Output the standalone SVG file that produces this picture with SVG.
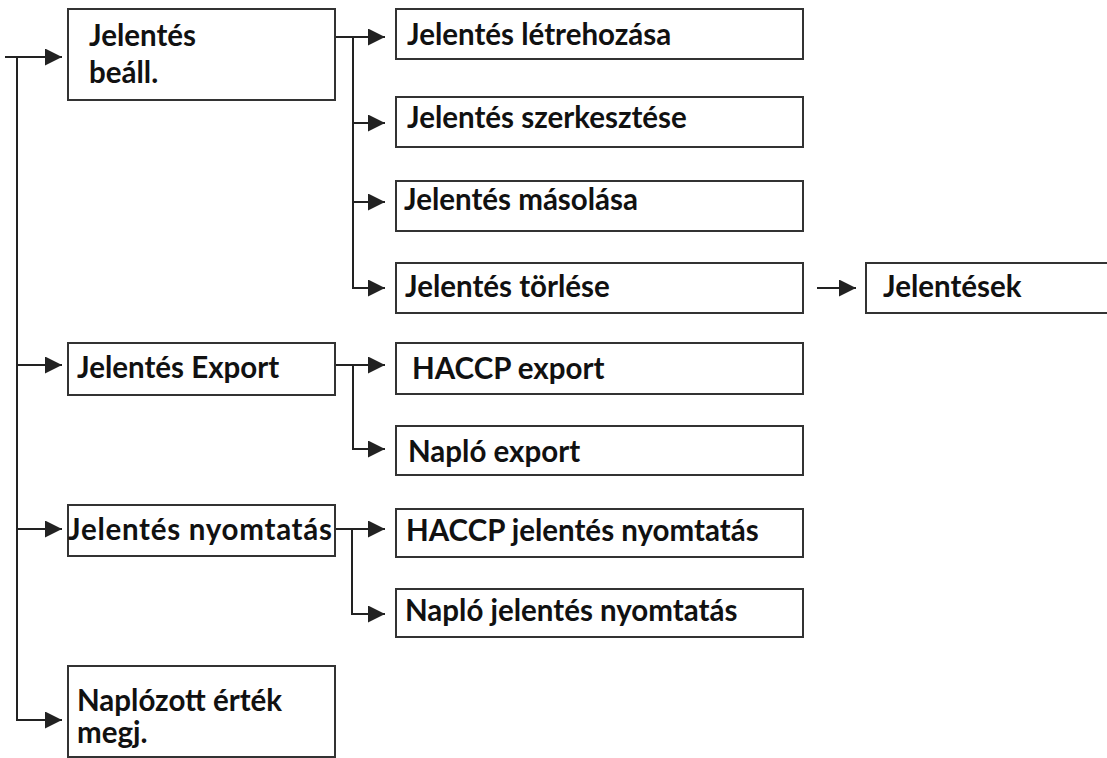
<svg xmlns="http://www.w3.org/2000/svg" width="1107" height="758" viewBox="0 0 1107 758">
<style>
.box{fill:#fff;stroke:#333;stroke-width:2}
.t{font-family:Lato,"Liberation Sans",sans-serif;font-weight:bold;font-size:29.5px;fill:#111}
.c{fill:none;stroke:#222;stroke-width:2}
</style>
<defs>
<marker id="ah" markerUnits="userSpaceOnUse" markerWidth="17" markerHeight="17" refX="16" refY="8" orient="auto" viewBox="0 0 16 16">
<path d="M0,0 L16,8 L0,16 z" fill="#222"/>
</marker>
</defs>
<rect width="1107" height="758" fill="#fff"/>
<g id="connectors">
<path class="c" d="M5,57 H62" marker-end="url(#ah)"/>
<path class="c" d="M17,57 V720 H62" marker-end="url(#ah)"/>
<path class="c" d="M17,365 H62" marker-end="url(#ah)"/>
<path class="c" d="M17,529 H62" marker-end="url(#ah)"/>
<path class="c" d="M335,37 H385" marker-end="url(#ah)"/>
<path class="c" d="M353,37 V288 H385" marker-end="url(#ah)"/>
<path class="c" d="M353,123 H385" marker-end="url(#ah)"/>
<path class="c" d="M353,202 H385" marker-end="url(#ah)"/>
<path class="c" d="M817,288 H856" marker-end="url(#ah)"/>
<path class="c" d="M335,365 H385" marker-end="url(#ah)"/>
<path class="c" d="M353,365 V449 H385" marker-end="url(#ah)"/>
<path class="c" d="M335,529 H385" marker-end="url(#ah)"/>
<path class="c" d="M352,529 V614 H385" marker-end="url(#ah)"/>
</g>
<g id="n-beall"><rect class="box" x="68" y="9" width="267" height="91"/><text class="t" x="89" y="46">Jelentés</text><text class="t" x="89" y="83">beáll.</text></g>
<g id="n-letrehozasa"><rect class="box" x="396" y="9" width="407" height="50"/><text class="t" x="407" y="45">Jelentés létrehozása</text></g>
<g id="n-szerkesztese"><rect class="box" x="396" y="97" width="407" height="50"/><text class="t" x="407" y="128">Jelentés szerkesztése</text></g>
<g id="n-masolasa"><rect class="box" x="396" y="181" width="407" height="50"/><text class="t" x="404" y="210">Jelentés másolása</text></g>
<g id="n-torlese"><rect class="box" x="396" y="263" width="407" height="50"/><text class="t" x="405" y="297">Jelentés törlése</text></g>
<g id="n-jelentesek"><rect class="box" x="866" y="263" width="250" height="50"/><text class="t" x="883" y="297">Jelentések</text></g>
<g id="n-export"><rect class="box" x="68" y="343" width="267" height="52"/><text class="t" x="77" y="378">Jelentés Export</text></g>
<g id="n-haccp-export"><rect class="box" x="396" y="343" width="407" height="51"/><text class="t" x="412" y="379">HACCP export</text></g>
<g id="n-naplo-export"><rect class="box" x="396" y="426" width="407" height="49"/><text class="t" x="408" y="462">Napló export</text></g>
<g id="n-nyomtatas"><rect class="box" x="68" y="505" width="267" height="51"/><text class="t" x="68" y="540" textLength="264">Jelentés nyomtatás</text></g>
<g id="n-haccp-nyomtatas"><rect class="box" x="396" y="509" width="407" height="48"/><text class="t" x="406" y="541">HACCP jelentés nyomtatás</text></g>
<g id="n-naplo-nyomtatas"><rect class="box" x="396" y="589" width="407" height="48"/><text class="t" x="405" y="621">Napló jelentés nyomtatás</text></g>
<g id="n-naplozott"><rect class="box" x="68" y="666" width="267" height="91"/><text class="t" x="77" y="711">Naplózott érték</text><text class="t" x="77" y="743">megj.</text></g>
</svg>
